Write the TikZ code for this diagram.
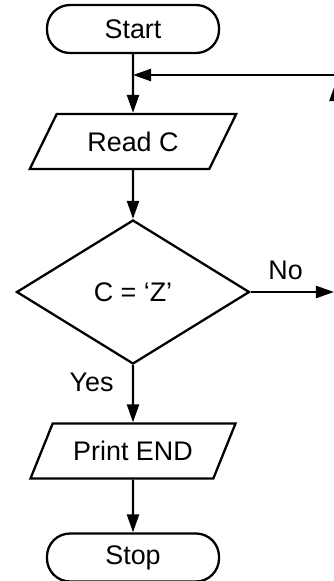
\documentclass[tikz,border=0pt]{standalone}
\usepackage{fontspec}
\setmainfont{Liberation Sans}
\usetikzlibrary{shapes.geometric,arrows.meta}

\begin{document}
\begin{tikzpicture}[
    font=\fontsize{15.3}{18}\selectfont,
    terminal/.style={draw,line width=1.3pt,rounded corners=0.46cm,minimum width=3.44cm,minimum height=0.96cm},
    io/.style={draw,line width=1.3pt,trapezium,trapezium left angle=60,trapezium right angle=120,trapezium stretches=true,minimum width=4.14cm,minimum height=1.1cm},
    decision/.style={draw,line width=1.3pt,diamond,minimum width=4.66cm,minimum height=2.88cm,inner sep=0pt},
    flow/.style={line width=1.3pt,-{Triangle[length=3.6mm,width=2.4mm]}}]
    \clip (0,0) rectangle (6.68,-11.62);
    \node [terminal] (start) at (2.66,-0.58) {Start};
    \node [io] (read) at (2.66,-2.83) {Read C};
    \node [decision] (test) at (2.66,-5.84) {C = ‘Z’};
    \node [io] (print) at (2.66,-9.02) {Print END};
    \node [terminal] (stop) at (2.66,-11.15) {Stop};
    \coordinate (join) at (2.66,-1.5);
    \coordinate (back) at (7,-1.5);
    \coordinate (upfrom) at (6.71,-3);
    \coordinate (upto) at (6.71,-1.66);
    \coordinate (noend) at (6.68,-5.84);
    \draw [flow] (start) -- (read);
    \draw [flow] (back) -- (join);
    \draw [flow] (upfrom) -- (upto);
    \draw [flow] (read) -- (test);
    \draw [flow] (test.east) -- node [above=3pt,pos=0.42] {No} (noend);
    \draw [flow] (test) -- node [left,pos=0.3,xshift=-0.25cm] {Yes} (print);
    \draw [flow] (print) -- (stop);
\end{tikzpicture}
\end{document}
